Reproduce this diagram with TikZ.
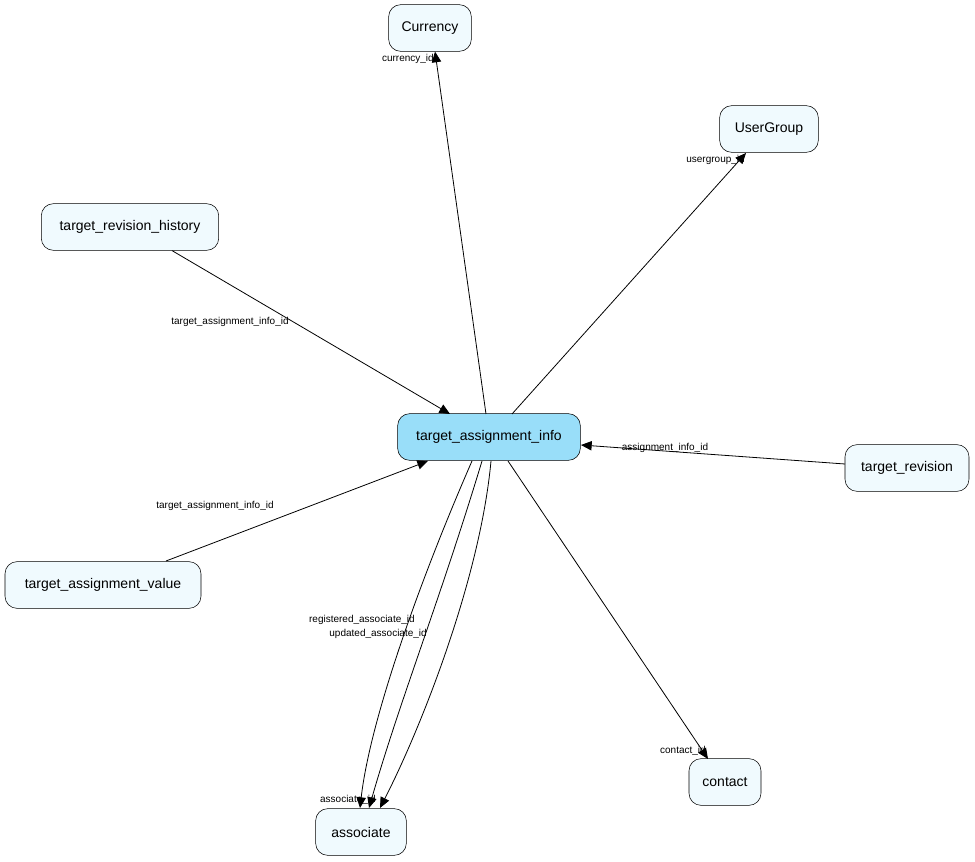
\documentclass[tikz,border=0pt]{standalone}
\usepackage{fontspec}
\setmainfont{Liberation Sans}
\usetikzlibrary{arrows.meta}
\begin{document}
\begin{tikzpicture}[x=0.75pt,y=-0.75pt,
 tbl/.style={draw=black,fill=cyan!6,rounded corners=9pt,font=\fontsize{10.5}{12}\selectfont,minimum height=35pt,inner xsep=0pt},
 mainb/.style={tbl,fill=cyan!40},
 lbl/.style={font=\fontsize{7.5}{9}\selectfont,inner sep=0pt},
 fk/.style={-{Triangle[length=8pt,width=7pt]},semithick}]
\useasboundingbox (0,0) rectangle (975,862);
\node[tbl,minimum width=62pt] (cur) at (430,28) {Currency};
\node[tbl,minimum width=74pt] (ug) at (769,129) {UserGroup};
\node[tbl,minimum width=133pt] (trh) at (130,227) {target\_revision\_history};
\node[mainb,minimum width=137pt] (tai) at (489,437) {target\_assignment\_info};
\node[tbl,minimum width=93pt] (tr) at (907,468) {target\_revision};
\node[tbl,minimum width=147pt] (tav) at (103,585) {target\_assignment\_value};
\node[tbl,minimum width=54pt] (con) at (725,782) {contact};
\node[tbl,minimum width=68pt] (asc) at (361,832) {associate};
\coordinate (a1) at (486,414); \coordinate (a2) at (512,414);
\draw[fk] (a1) -- (cur.south -| 435,0);
\draw[fk] (a2) -- (746,153);
\draw[fk] (trh.south -| 172,0) -- (450,414);
\draw[fk] (166,561) -- (428,461);
\draw[fk] (845,464) -- (581,445);
\draw[fk] (508,461) -- (708,759);
\draw[fk] (472,461) .. controls (420,580) and (370,720) .. (360,808);
\draw[fk] (482,461) .. controls (440,600) and (400,700) .. (369,808);
\draw[fk] (491,461) .. controls (480,580) and (420,730) .. (380,808);
\node[lbl,anchor=east] (l1) at (434,59) {currency\_id};
\node[lbl,anchor=east] (l2) at (745,160) {usergroup\_id};
\node[lbl] (l3) at (230,322) {target\_assignment\_info\_id};
\node[lbl] (l4) at (215,506) {target\_assignment\_info\_id};
\node[lbl] (l5) at (665,448) {assignment\_info\_id};
\node[lbl,anchor=east] (l6) at (706,751) {contact\_id};
\node[lbl,anchor=east] (l7) at (415,620) {registered\_associate\_id};
\node[lbl,anchor=east] (l8) at (427,634) {updated\_associate\_id};
\node[lbl,anchor=east] (l9) at (376,800) {associate\_id};
\end{tikzpicture}
\end{document}
